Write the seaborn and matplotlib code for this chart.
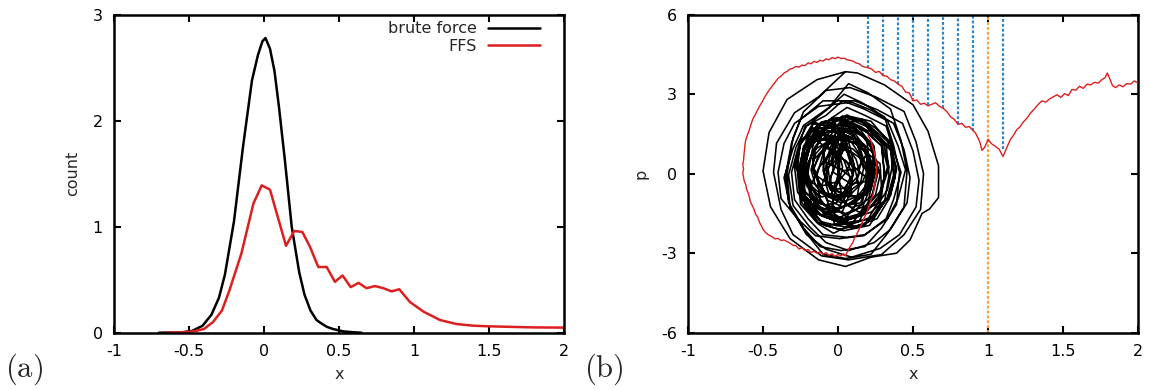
import matplotlib
matplotlib.use("Agg")
import matplotlib.pyplot as plt
import seaborn as sns

# ---- panel (a): distribution of x ----
bf_x = [-0.70, -0.55, -0.48, -0.41, -0.35, -0.30, -0.26, -0.20, -0.14, -0.08, -0.04, -0.01,
        0.01, 0.04, 0.07, 0.10, 0.14, 0.185, 0.235, 0.27, 0.31, 0.35, 0.38, 0.42, 0.46,
        0.53, 0.60, 0.65]
bf_count = [0.0, 0.003, 0.016, 0.065, 0.17, 0.33, 0.55, 1.05, 1.75, 2.38, 2.62, 2.75,
            2.78, 2.68, 2.47, 2.13, 1.62, 1.00, 0.57, 0.36, 0.21, 0.12, 0.09, 0.055, 0.035,
            0.012, 0.004, 0.0]

ffs_x = [-0.65, -0.55, -0.49, -0.45, -0.40, -0.34, -0.28, -0.23, -0.15, -0.07, -0.015, 0.04,
         0.147, 0.202, 0.256, 0.307, 0.362, 0.418, 0.473, 0.524, 0.578, 0.631, 0.684, 0.74,
         0.796, 0.851, 0.902, 0.973, 1.062, 1.173, 1.284, 1.396, 1.507, 1.65, 1.80, 2.0]
ffs_count = [0.0, 0.004, 0.01, 0.018, 0.035, 0.10, 0.21, 0.40, 0.75, 1.22, 1.39, 1.35,
             0.82, 0.96, 0.95, 0.81, 0.62, 0.62, 0.48, 0.54, 0.43, 0.47, 0.42, 0.44,
             0.42, 0.39, 0.41, 0.29, 0.20, 0.12, 0.082, 0.066, 0.06, 0.055, 0.05, 0.048]

# ---- panel (b): phase-space trajectories (x, p), one orbit per line ----
bf_traj_x = [
    0.02, 0.09, 0.12, 0.145, 0.12, 0.07, 0.03, -0.05, -0.08, -0.10, -0.09, -0.03,
    0.01, 0.06, 0.08, 0.11, 0.09, 0.04, -0.01, -0.06, -0.08, -0.10, -0.09, -0.04,
    -0.09, -0.05, -0.01, 0.01, -0.02, -0.04, -0.11, -0.15, -0.19, -0.20, -0.18, -0.16,
    0.11, 0.15, 0.19, 0.20, 0.18, 0.16, 0.09, 0.05, 0.02, 0.0, 0.01, 0.06,
    -0.04, 0.02, 0.08, 0.09, 0.06, 0.03, -0.06, -0.11, -0.18, -0.19, -0.16, -0.13,
    0.06, 0.12, 0.19, 0.20, 0.17, 0.13, 0.04, -0.02, -0.09, -0.10, -0.07, -0.03,
    -0.11, -0.07, -0.03, -0.01, -0.04, -0.06, -0.13, -0.17, -0.21, -0.22, -0.20, -0.18,
    0.09, 0.13, 0.19, 0.20, 0.17, 0.15, 0.07, 0.03, -0.03, -0.04, -0.01, 0.01,
    0.01, 0.10, 0.15, 0.19, 0.16, 0.08, -0.01, -0.10, -0.15, -0.18, -0.16, -0.08,
    0.01, 0.05, 0.07, 0.10, 0.08, 0.04, -0.01, -0.05, -0.07, -0.09, -0.08, -0.04,
    0.01, 0.09, 0.13, 0.17, 0.15, 0.07, -0.01, -0.09, -0.13, -0.17, -0.15, -0.07,
    -0.04, 0.02, 0.05, 0.08, 0.06, 0.0, -0.06, -0.10, -0.16, -0.17, -0.15, -0.12,
    0.04, 0.11, 0.19, 0.22, 0.18, 0.13, 0.02, -0.07, -0.12, -0.16, -0.13, -0.05,
    0.09, 0.14, 0.20, 0.21, 0.18, 0.15, 0.07, 0.02, -0.04, -0.05, -0.02, 0.01,
    0.05, 0.15, 0.20, 0.25, 0.22, 0.13, 0.03, -0.07, -0.12, -0.17, -0.12, -0.05,
    -0.07, 0.0, 0.04, 0.08, 0.05, -0.01, -0.09, -0.15, -0.22, -0.23, -0.20, -0.16,
    0.09, 0.15, 0.23, 0.24, 0.21, 0.17, 0.07, 0.01, -0.07, -0.08, -0.05, -0.01,
    0.01, 0.12, 0.18, 0.23, 0.20, 0.10, -0.01, -0.12, -0.18, -0.23, -0.20, -0.10,
    0.11, 0.16, 0.23, 0.24, 0.21, 0.18, 0.09, 0.04, -0.03, -0.04, -0.01, 0.02,
    -0.04, 0.06, 0.11, 0.16, 0.13, 0.03, -0.06, -0.14, -0.23, -0.24, -0.21, -0.16,
    -0.02, 0.09, 0.15, 0.20, 0.17, 0.07, -0.04, -0.13, -0.23, -0.24, -0.21, -0.15,
    -0.09, -0.03, 0.0, 0.03, 0.01, -0.05, -0.11, -0.15, -0.21, -0.22, -0.20, -0.17,
    -0.04, 0.05, 0.10, 0.14, 0.12, 0.03, -0.06, -0.13, -0.22, -0.23, -0.20, -0.15,
    0.01, 0.13, 0.21, 0.26, 0.21, 0.12, 0.01, -0.13, -0.21, -0.25, -0.23, -0.12,
    0.13, 0.17, 0.23, 0.24, 0.22, 0.19, 0.11, 0.07, 0.01, 0.0, 0.02, 0.05,
    -0.07, 0.01, 0.06, 0.10, 0.08, 0.0, -0.09, -0.16, -0.24, -0.25, -0.22, -0.17,
    0.02, 0.16, 0.23, 0.28, 0.25, 0.14, 0.04, -0.10, -0.17, -0.22, -0.17, -0.10,
    0.12, 0.19, 0.28, 0.29, 0.28, 0.18, 0.11, -0.02, -0.06, -0.11, -0.06, 0.01,
    0.06, 0.18, 0.29, 0.31, 0.29, 0.19, 0.04, -0.09, -0.18, -0.23, -0.19, -0.08,
    0.16, 0.25, 0.35, 0.36, 0.33, 0.27, 0.14, 0.05, -0.05, -0.07, -0.03, 0.03,
    0.07, 0.19, 0.30, 0.34, 0.29, 0.20, 0.05, -0.08, -0.17, -0.22, -0.18, -0.07,
    0.01, 0.12, 0.24, 0.26, 0.22, 0.14, -0.01, -0.12, -0.24, -0.26, -0.22, -0.14,
    -0.01, 0.13, 0.21, 0.27, 0.23, 0.11, -0.03, -0.15, -0.27, -0.29, -0.25, -0.17,
    -0.01, 0.11, 0.18, 0.23, 0.20, 0.09, -0.03, -0.13, -0.24, -0.26, -0.22, -0.15,
    0.03, 0.16, 0.29, 0.33, 0.27, 0.18, 0.01, -0.14, -0.23, -0.27, -0.25, -0.12,
    0.13, 0.24, 0.36, 0.38, 0.34, 0.26, 0.11, 0.0, -0.12, -0.14, -0.10, -0.02,
    0.07, 0.21, 0.35, 0.37, 0.33, 0.23, 0.05, -0.11, -0.21, -0.26, -0.23, -0.09,
    0.06, 0.19, 0.32, 0.34, 0.31, 0.21, 0.04, -0.09, -0.22, -0.25, -0.20, -0.11,
    0.09, 0.22, 0.35, 0.39, 0.33, 0.24, 0.07, -0.08, -0.17, -0.22, -0.19, -0.06,
    0.06, 0.20, 0.33, 0.39, 0.35, 0.22, 0.04, -0.12, -0.23, -0.28, -0.25, -0.11,
    0.03, 0.16, 0.29, 0.31, 0.27, 0.18, 0.01, -0.14, -0.25, -0.27, -0.23, -0.12,
    0.06, 0.18, 0.32, 0.37, 0.42, 0.37, 0.32, 0.18, 0.06, -0.10, -0.20, -0.29, -0.31, -0.27, -0.22, -0.08,
    0.03, 0.17, 0.33, 0.40, 0.45, 0.40, 0.33, 0.17, 0.01, -0.15, -0.27, -0.38, -0.40, -0.36, -0.29, -0.13,
    0.09, 0.22, 0.37, 0.44, 0.48, 0.46, 0.35, 0.24, 0.07, -0.08, -0.19, -0.30, -0.33, -0.28, -0.21, -0.06,
    0.04, 0.16, 0.31, 0.37, 0.41, 0.39, 0.29, 0.18, 0.02, -0.12, -0.23, -0.33, -0.35, -0.31, -0.25, -0.10,
    0.11, 0.26, 0.43, 0.50, 0.54, 0.52, 0.41, 0.28, 0.09, -0.08, -0.21, -0.32, -0.36, -0.30, -0.23, -0.06,
    0.07, 0.20, 0.35, 0.42, 0.46, 0.44, 0.33, 0.22, 0.05, -0.10, -0.21, -0.32, -0.34, -0.30, -0.23, -0.08,
    0.08, 0.25, 0.44, 0.52, 0.57, 0.55, 0.44, 0.29, 0.07, -0.11, -0.30, -0.38, -0.43, -0.41, -0.29, -0.13,
    0.05, 0.13, 0.31, 0.50, 0.60, 0.67, 0.67, 0.61, 0.56, 0.48, 0.39, 0.22, 0.05, -0.13, -0.32, -0.45,
    -0.50, -0.46, -0.34, -0.14, 0.05,
]
bf_traj_p = [
    0.95, 0.78, 0.55, 0.05, -0.32, -0.55, -0.72, -0.62, -0.25, 0.12, 0.48, 0.85,
    1.62, 1.40, 1.00, 0.25, -0.30, -0.88, -0.98, -0.80, -0.40, 0.35, 0.90, 1.45,
    1.42, 1.18, 0.75, -0.05, -0.65, -1.25, -1.38, -1.20, -0.75, 0.05, 0.65, 1.25,
    1.32, 1.10, 0.70, -0.05, -0.60, -1.15, -1.28, -1.10, -0.70, 0.05, 0.60, 1.15,
    0.32, 0.15, -0.10, -0.65, -1.00, -1.42, -1.48, -1.35, -1.10, -0.55, -0.18, 0.20,
    1.72, 1.55, 1.35, 0.85, 0.55, 0.18, 0.12, 0.25, 0.45, 0.95, 1.25, 1.62,
    1.52, 1.33, 1.05, 0.45, 0.05, -0.40, -0.48, -0.35, -0.05, 0.55, 0.95, 1.40,
    0.32, 0.13, -0.15, -0.75, -1.15, -1.60, -1.68, -1.52, -1.25, -0.65, -0.25, 0.20,
    1.12, 0.93, 0.65, 0.05, -0.35, -0.80, -0.88, -0.75, -0.45, 0.15, 0.55, 1.00,
    0.62, 0.50, 0.32, -0.05, -0.28, -0.55, -0.58, -0.50, -0.32, 0.05, 0.28, 0.55,
    1.38, 1.18, 0.85, 0.20, -0.35, -0.68, -0.90, -0.70, -0.25, 0.30, 0.75, 1.25,
    1.42, 1.25, 1.00, 0.45, 0.10, -0.30, -0.38, -0.25, 0.0, 0.55, 0.90, 1.30,
    1.38, 1.15, 0.80, 0.10, -0.50, -0.85, -1.10, -0.86, -0.42, 0.20, 0.70, 1.22,
    0.82, 0.62, 0.35, -0.25, -0.65, -1.10, -1.18, -1.02, -0.75, -0.15, 0.28, 0.70,
    1.45, 1.20, 0.80, 0.05, -0.60, -1.00, -1.25, -1.00, -0.50, 0.15, 0.70, 1.28,
    1.02, 0.82, 0.50, -0.15, -0.60, -1.10, -1.18, -1.05, -0.70, -0.05, 0.40, 0.90,
    1.72, 1.50, 1.10, 0.35, -0.20, -0.78, -0.88, -0.70, -0.30, 0.45, 1.00, 1.58,
    1.72, 1.46, 1.00, 0.15, -0.60, -1.05, -1.35, -1.12, -0.50, 0.25, 0.90, 1.55,
    1.62, 1.42, 1.15, 0.55, 0.12, -0.30, -0.38, -0.22, 0.05, 0.65, 1.05, 1.50,
    2.12, 1.85, 1.40, 0.55, -0.10, -0.75, -0.88, -0.65, -0.20, 0.65, 1.30, 1.95,
    1.65, 1.35, 0.90, 0.05, -0.70, -1.15, -1.45, -1.22, -0.60, 0.15, 0.80, 1.42,
    1.52, 1.30, 0.95, 0.25, -0.25, -0.78, -0.88, -0.70, -0.35, 0.35, 0.85, 1.38,
    1.25, 0.95, 0.45, -0.45, -1.15, -1.85, -1.95, -1.85, -1.15, -0.35, 0.35, 1.05,
    1.92, 1.65, 1.15, 0.25, -0.55, -1.05, -1.32, -1.10, -0.45, 0.35, 1.05, 1.72,
    1.32, 1.12, 0.80, 0.15, -0.30, -0.80, -0.88, -0.72, -0.40, 0.25, 0.70, 1.20,
    1.95, 1.62, 1.10, 0.15, -0.60, -1.32, -1.48, -1.22, -0.70, 0.25, 1.00, 1.72,
    1.75, 1.45, 0.90, -0.05, -0.80, -1.52, -1.68, -1.45, -0.90, 0.05, 0.80, 1.50,
    1.15, 0.80, 0.38, -0.55, -1.20, -1.95, -2.05, -1.95, -1.20, -0.45, 0.25, 0.95,
    1.95, 1.62, 1.05, 0.05, -0.85, -1.42, -1.75, -1.50, -0.75, 0.15, 0.95, 1.70,
    2.05, 1.72, 1.20, 0.25, -0.60, -1.12, -1.45, -1.15, -0.50, 0.35, 1.10, 1.82,
    2.08, 1.78, 1.22, 0.25, -0.62, -1.18, -1.50, -1.25, -0.55, 0.35, 1.12, 1.85,
    2.05, 1.70, 1.05, -0.05, -0.95, -1.80, -1.95, -1.80, -0.95, 0.05, 0.95, 1.80,
    2.12, 1.80, 1.20, 0.15, -0.80, -1.40, -1.75, -1.48, -0.70, 0.25, 1.10, 1.88,
    1.75, 1.40, 0.80, -0.25, -1.10, -1.90, -2.25, -1.90, -1.10, -0.15, 0.70, 1.50,
    2.18, 1.98, 1.15, 0.25, -0.85, -1.50, -1.85, -1.50, -0.85, 0.20, 1.25, 1.90,
    1.75, 1.42, 0.85, -0.15, -0.95, -1.70, -2.00, -1.62, -1.05, -0.05, 0.75, 1.50,
    1.95, 1.60, 1.00, -0.05, -0.90, -1.70, -1.85, -1.60, -1.00, 0.05, 0.90, 1.70,
    2.22, 1.86, 1.15, -0.05, -1.05, -1.95, -2.15, -1.95, -1.05, 0.05, 1.05, 1.95,
    2.15, 1.98, 1.12, 0.20, -0.92, -1.60, -1.95, -1.65, -0.85, 0.10, 1.22, 1.90,
    2.18, 1.85, 1.22, 0.15, -0.82, -1.45, -1.80, -1.52, -0.75, 0.25, 1.15, 1.95,
    2.10, 1.75, 1.05, -0.10, -1.05, -1.90, -2.10, -1.85, -1.15, 0.0, 0.95, 1.80,
    2.50, 2.20, 1.80, 0.88, 0.05, -0.98, -1.70, -2.30, -2.40, -2.30, -1.70, -0.98, 0.05, 0.90, 1.78, 2.20,
    2.75, 2.45, 2.00, 1.05, 0.15, -0.94, -1.70, -2.34, -2.45, -2.34, -1.70, -0.94, 0.05, 1.14, 1.90, 2.54,
    2.70, 2.40, 1.90, 0.90, -0.15, -1.10, -2.10, -2.60, -2.90, -2.60, -2.00, -1.20, -0.05, 1.00, 1.80, 2.48,
    3.00, 2.68, 2.14, 1.08, 0.05, -1.16, -2.05, -2.75, -2.90, -2.75, -2.05, -1.08, -0.05, 1.16, 2.05, 2.75,
    2.75, 2.42, 1.90, 0.85, -0.25, -1.25, -2.30, -2.82, -3.15, -2.85, -2.30, -1.25, -0.15, 0.95, 1.82, 2.50,
    3.40, 3.05, 2.44, 1.25, 0.10, -1.25, -2.25, -3.04, -3.20, -3.04, -2.25, -1.25, 0.0, 1.35, 2.34, 3.14,
    3.25, 2.90, 2.35, 1.20, 0.0, -1.35, -2.30, -3.05, -3.25, -3.10, -2.30, -1.35, 0.05, 1.15, 2.30, 2.90,
    3.85, 3.80, 3.35, 2.60, 1.60, 0.30, -0.90, -1.33, -1.50, -2.50, -3.00, -3.15, -3.50, -3.25, -2.45, -1.25,
    0.10, 1.55, 2.80, 3.55, 3.85,
]

ffs_traj_x = [
    0.20, 0.215, 0.225, 0.23, 0.24, 0.245, 0.25, 0.255, 0.26, 0.255,
    0.255, 0.25, 0.245, 0.24, 0.235, 0.225, 0.215, 0.205, 0.195, 0.18,
    0.165, 0.155, 0.14, 0.125, 0.11, 0.10, 0.085, 0.07, 0.06, 0.05,
    0.035, 0.02, 0.0, -0.02, -0.04, -0.06, -0.08, -0.10, -0.12, -0.14,
    -0.16, -0.18, -0.20, -0.22, -0.24, -0.26, -0.28, -0.30, -0.32, -0.34,
    -0.36, -0.38, -0.40, -0.42, -0.44, -0.46, -0.48, -0.50,
    -0.51, -0.525, -0.535, -0.55, -0.56, -0.572, -0.585, -0.59, -0.60, -0.61,
    -0.615, -0.625, -0.63, -0.635, -0.63, -0.635, -0.63, -0.628, -0.625, -0.622,
    -0.62, -0.615, -0.605, -0.595, -0.585, -0.575, -0.565, -0.55, -0.535, -0.52,
    -0.505, -0.49, -0.475, -0.46, -0.44, -0.42, -0.40, -0.38, -0.36, -0.34,
    -0.32, -0.30, -0.28, -0.26, -0.24, -0.22, -0.20, -0.18, -0.16, -0.14,
    -0.12, -0.10, -0.08, -0.06, -0.04, -0.02, 0.0, 0.02, 0.04, 0.06,
    0.08, 0.10, 0.12, 0.14, 0.16, 0.18,
    0.20, 0.225, 0.25, 0.275, 0.30, 0.325, 0.35, 0.375, 0.40, 0.425,
    0.45, 0.475, 0.50, 0.525, 0.55, 0.575, 0.60, 0.625, 0.65, 0.675,
    0.70, 0.725, 0.75, 0.775, 0.80, 0.825, 0.85, 0.875, 0.90, 0.915,
    0.93, 0.945, 0.96, 0.975, 0.99, 1.0, 1.015, 1.03, 1.045, 1.06,
    1.075, 1.09, 1.10, 1.115, 1.13, 1.15, 1.17, 1.19, 1.21, 1.235,
    1.26, 1.285, 1.31, 1.335, 1.36, 1.385, 1.41, 1.435, 1.46, 1.485,
    1.51, 1.535, 1.56, 1.585, 1.61, 1.635, 1.66, 1.685, 1.71, 1.735,
    1.76, 1.78, 1.795, 1.81, 1.83, 1.85, 1.875, 1.90, 1.925, 1.95,
    1.975, 2.0,
]
ffs_traj_p = [
    1.45, 1.30, 1.15, 1.0, 0.85, 0.72, 0.58, 0.42, 0.28, 0.12,
    -0.05, -0.22, -0.40, -0.58, -0.75, -0.92, -1.08, -1.25, -1.42, -1.6,
    -1.78, -1.95, -2.1, -2.28, -2.42, -2.58, -2.72, -2.85, -2.98, -3.1,
    -3.02, -3.1, -3.05, -3.12, -3.02, -3.08, -2.98, -3.04, -2.96, -3.0,
    -2.93, -2.97, -2.86, -2.9, -2.8, -2.84, -2.72, -2.7, -2.62, -2.56,
    -2.5, -2.52, -2.44, -2.46, -2.38, -2.32, -2.24, -2.1,
    -1.98, -1.82, -1.65, -1.52, -1.35, -1.2, -1.05, -0.9, -0.72, -0.58,
    -0.42, -0.28, -0.12, 0.02, 0.18, 0.35, 0.5, 0.66, 0.82, 0.98,
    1.12, 1.28, 1.45, 1.6, 1.78, 1.95, 2.1, 2.25, 2.42, 2.58,
    2.72, 2.88, 3.02, 3.15, 3.3, 3.45, 3.6, 3.68, 3.8, 3.86,
    3.95, 3.98, 4.05, 4.02, 4.1, 4.08, 4.18, 4.15, 4.24, 4.2,
    4.28, 4.25, 4.33, 4.3, 4.38, 4.34, 4.4, 4.35, 4.36, 4.3,
    4.28, 4.25, 4.18, 4.15, 4.06, 4.02,
    4.0, 3.95, 3.82, 3.86, 3.7, 3.68, 3.55, 3.5, 3.38, 3.3,
    3.08, 3.05, 2.75, 2.78, 2.62, 2.66, 2.56, 2.62, 2.68, 2.55,
    2.47, 2.35, 2.15, 2.05, 1.86, 1.9, 1.75, 1.78, 1.63, 1.55,
    1.38, 1.2, 0.88, 0.98, 1.15, 1.3, 1.18, 1.1, 1.05, 0.98,
    0.92, 0.75, 0.65, 0.85, 1.05, 1.3, 1.45, 1.65, 1.75, 1.95,
    2.1, 2.3, 2.45, 2.62, 2.75, 2.7, 2.82, 2.9, 2.98, 2.88,
    3.02, 2.95, 3.18, 3.15, 3.3, 3.22, 3.38, 3.35, 3.45, 3.42,
    3.55, 3.62, 3.8, 3.6, 3.32, 3.25, 3.35, 3.28, 3.4, 3.38,
    3.5, 3.42,
]

# FFS interfaces (lambda_i) and the momentum where the path first reaches each one
iface_x = [0.2, 0.3, 0.4, 0.5, 0.6, 0.7, 0.8, 0.9, 1.1]
iface_p = [4.00, 3.70, 3.38, 2.75, 2.58, 2.47, 1.86, 1.63, 0.92]
final_x = 1.0

x_ticks = [-1, -0.5, 0, 0.5, 1, 1.5, 2]
x_ticklabels = ["-1", "-0.5", "0", "0.5", "1", "1.5", "2"]
a_yticks = [0, 1, 2, 3]
a_yticklabels = ["0", "1", "2", "3"]
b_yticks = [-6, -3, 0, 3, 6]
b_yticklabels = ["-6", "-3", "0", "3", "6"]

assert len(bf_traj_x) == len(bf_traj_p)
assert len(ffs_traj_x) == len(ffs_traj_p)

sns.set_style("ticks")
plt.rcParams["font.family"] = ["DejaVu Sans"]
plt.rcParams["mathtext.fontset"] = "cm"
plt.rcParams["axes.unicode_minus"] = False

BLACK = "#000000"
RED = "#dc1f1f"
BLUE = "#2e86c8"
ORANGE = "#f8a04a"
FS = 11.5

fig = plt.figure(figsize=(11.5, 3.9), dpi=100)
ax_a = fig.add_axes([0.0991, 0.1469, 0.3913, 0.8154])
ax_b = fig.add_axes([0.5983, 0.1469, 0.3913, 0.8154])

# (a)
sns.lineplot(x=bf_x, y=bf_count, ax=ax_a, color=BLACK, lw=1.8, sort=False,
             estimator=None, label="brute force")
sns.lineplot(x=ffs_x, y=ffs_count, ax=ax_a, color=RED, lw=1.8, sort=False,
             estimator=None, label="FFS")
ax_a.set_xlim(-1, 2)
ax_a.set_ylim(0, 3)
ax_a.set_yticks(a_yticks)
ax_a.set_yticklabels(a_yticklabels)
ax_a.set_ylabel("count", fontsize=FS, labelpad=9)
ax_a.legend(loc="upper right", bbox_to_anchor=(0.962, 1.0), frameon=False,
            markerfirst=False, fontsize=FS, handlelength=3.3, handletextpad=0.7,
            labelspacing=0.18, borderaxespad=0.2, borderpad=0.2)

# (b)
ax_b.vlines(iface_x, iface_p, 6, colors=BLUE, lw=1.6, linestyles=(0, (1.3, 0.9)), zorder=1)
ax_b.vlines([final_x], -6, 6, colors=ORANGE, lw=1.6, linestyles=(0, (1.3, 0.9)), zorder=1)
sns.lineplot(x=bf_traj_x, y=bf_traj_p, ax=ax_b, color=BLACK, lw=1.15, sort=False,
             estimator=None, zorder=2)
sns.lineplot(x=ffs_traj_x, y=ffs_traj_p, ax=ax_b, color=RED, lw=1.0, sort=False,
             estimator=None, zorder=3)
ax_b.set_xlim(-1, 2)
ax_b.set_ylim(-6, 6)
ax_b.set_yticks(b_yticks)
ax_b.set_yticklabels(b_yticklabels)
ax_b.set_ylabel("p", fontsize=FS, labelpad=9)

for ax in (ax_a, ax_b):
    ax.set_xticks(x_ticks)
    ax.set_xticklabels(x_ticklabels)
    ax.set_xlabel("x", fontsize=FS, labelpad=6)
    ax.tick_params(direction="in", length=5, width=1.5, top=True, right=True,
                   labelsize=FS, pad=8, color=BLACK, labelcolor=BLACK)
    for sp in ax.spines.values():
        sp.set_linewidth(1.8)
        sp.set_color(BLACK)
        sp.set_visible(True)

fig.text(0.004, 0.052, r"$\mathrm{(a)}$", fontsize=22, va="center", ha="left")
fig.text(0.508, 0.052, r"$\mathrm{(b)}$", fontsize=22, va="center", ha="left")

fig.savefig("out.png", dpi=100)
